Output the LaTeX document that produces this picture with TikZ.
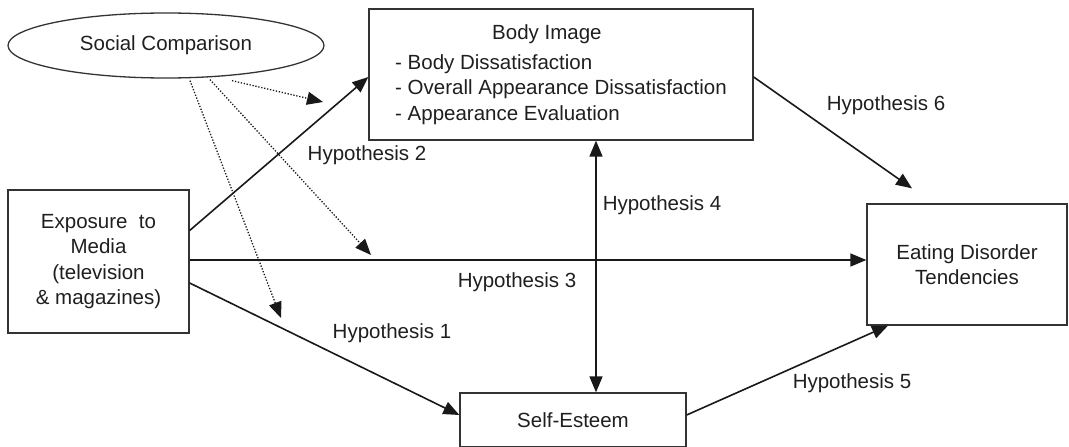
\documentclass[tikz,border=0pt]{standalone}
\usepackage{fontspec}
\setmainfont{Liberation Sans}
\usetikzlibrary{arrows.meta,shapes.geometric}
\newcommand{\diafont}{\fontsize{20.5}{25.5}\selectfont}
\begin{document}
\begin{tikzpicture}[x=1pt,y=-1pt,
  box/.style={draw=black!80, line width=1.3pt, inner sep=0pt, font=\diafont, text=black!88, align=center},
  hyp/.style={inner sep=0pt, font=\diafont, text=black!88},
  conn/.style={line width=1.6pt, draw=black!90, -{Triangle[length=16pt,width=13pt]}},
  biconn/.style={line width=1.6pt, draw=black!90, {Triangle[length=16pt,width=13pt]}-{Triangle[length=16pt,width=13pt]}},
  dotconn/.style={line width=1.3pt, draw=black!90, dash pattern=on 1.3pt off 1.7pt, -{Triangle[length=16pt,width=13pt]}}
]
\useasboundingbox (0,0) rectangle (1069,447);

% nodes
\node[box, ellipse, minimum width=316pt, minimum height=65pt] (sc) at (166,45.5) {Social Comparison};
\node[box, minimum width=384pt, minimum height=131pt, align=left] (body) at (561,74.5)
  {\hspace*{97pt}Body Image\\[4.5pt]- Body Dissatisfaction\\- Overall Appearance Dissatisfaction\\- Appearance Evaluation};
\node[box, minimum width=181pt, minimum height=143pt] (expo) at (98.5,261.5)
  {Exposure\ \ to\\Media\\(television\\\&\ magazines)};
\node[box, minimum width=200pt, minimum height=121pt] (eat) at (967,264.5)
  {Eating Disorder\\Tendencies};
\node[box, minimum width=226pt, minimum height=54pt] (self) at (573,420)
  {Self-Esteem};

% hypothesis labels
\node[hyp] (h1) at (392,333) {Hypothesis 1};
\node[hyp] (h2) at (367,155) {Hypothesis 2};
\node[hyp] (h3) at (517,282) {Hypothesis 3};
\node[hyp] (h4) at (662,205) {Hypothesis 4};
\node[hyp] (h5) at (852,383) {Hypothesis 5};
\node[hyp] (h6) at (886,105) {Hypothesis 6};

% free ends of dotted arrows
\coordinate (d1) at (323,102);
\coordinate (d2) at (371,255);
\coordinate (d3) at (281,318);

% solid connectors
\draw[conn] ([yshift=31pt]expo.east) -- ([yshift=-2.5pt]body.west);
\draw[conn] ([yshift=1.5pt]expo.east) -- ([yshift=1.5pt]expo.east -| eat.west);
\draw[conn] ([yshift=-21.5pt]expo.east) -- ([yshift=5pt]self.west);
\draw[biconn] ([xshift=35pt]body.south) -- ([xshift=23pt]self.north);
\draw[conn] ([yshift=-2.5pt]body.east) -- ([shift={(-55pt,15pt)}]eat.north);
\draw[conn] ([yshift=5pt]self.east) -- ([xshift=-79pt]eat.south);

% dotted connectors from Social Comparison
\draw[dotconn] ([shift={(66pt,-2pt)}]sc.south) -- (d1);
\draw[dotconn] ([shift={(44pt,-1pt)}]sc.south) -- (d2);
\draw[dotconn] ([shift={(24pt,-2pt)}]sc.south) -- (d3);
\end{tikzpicture}
\end{document}
